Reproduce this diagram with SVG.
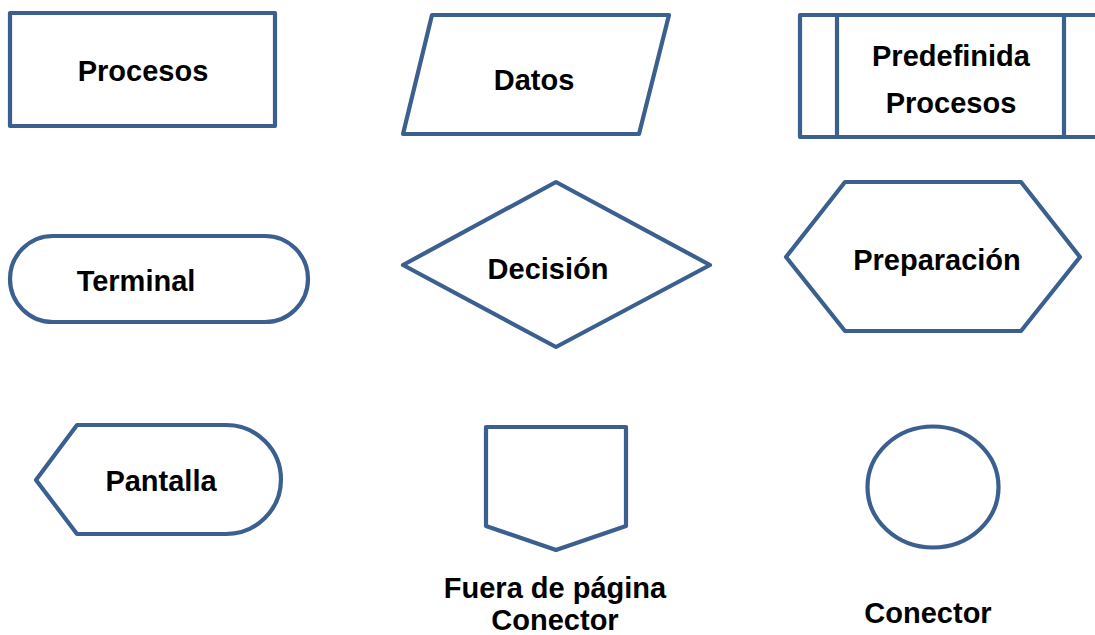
<svg xmlns="http://www.w3.org/2000/svg" width="1095" height="635" viewBox="0 0 1095 635">
<style>
.s{fill:#fff;stroke:#3B5F8F;stroke-width:4.2;stroke-linejoin:round}
.t{font-family:"Liberation Sans",Arial,sans-serif;font-weight:bold;font-size:29px;fill:#000;text-anchor:middle}
</style>
<rect width="1095" height="635" fill="#fff"/>
<g id="procesos"><rect class="s" x="10" y="13" width="265" height="113"/><text class="t" x="143" y="81">Procesos</text></g>
<g id="datos"><polygon class="s" points="432,15 669,15 639,134 403,134"/><text class="t" x="534" y="90">Datos</text></g>
<g id="predefinida"><rect class="s" x="800" y="15" width="310" height="122"/><line class="s" x1="837" y1="15" x2="837" y2="137"/><line class="s" x1="1064" y1="15" x2="1064" y2="137"/><text class="t" x="951" y="66">Predefinida</text><text class="t" x="951" y="113">Procesos</text></g>
<g id="terminal"><rect class="s" x="10" y="236" width="298" height="86" rx="43"/><text class="t" x="136" y="291">Terminal</text></g>
<g id="decision"><polygon class="s" points="403,265 556,182 710,265 556,347"/><text class="t" x="548" y="279">Decisión</text></g>
<g id="preparacion"><polygon class="s" points="786,257 845,182 1021,182 1080,257 1021,331 845,331"/><text class="t" x="937" y="270">Preparación</text></g>
<g id="pantalla"><path class="s" d="M36,480 L77,425 L226,425 A55,54.5 0 0 1 226,534 L77,534 Z"/><text class="t" x="161" y="491">Pantalla</text></g>
<g id="fuera"><polygon class="s" points="486,427 626,427 626,526 556,550 486,526"/><text class="t" x="555" y="598">Fuera de página</text><text class="t" x="555" y="630">Conector</text></g>
<g id="conector"><ellipse class="s" cx="933" cy="487" rx="65.5" ry="60.5"/><text class="t" x="928" y="623">Conector</text></g>
<g id="connectors"></g>
</svg>
